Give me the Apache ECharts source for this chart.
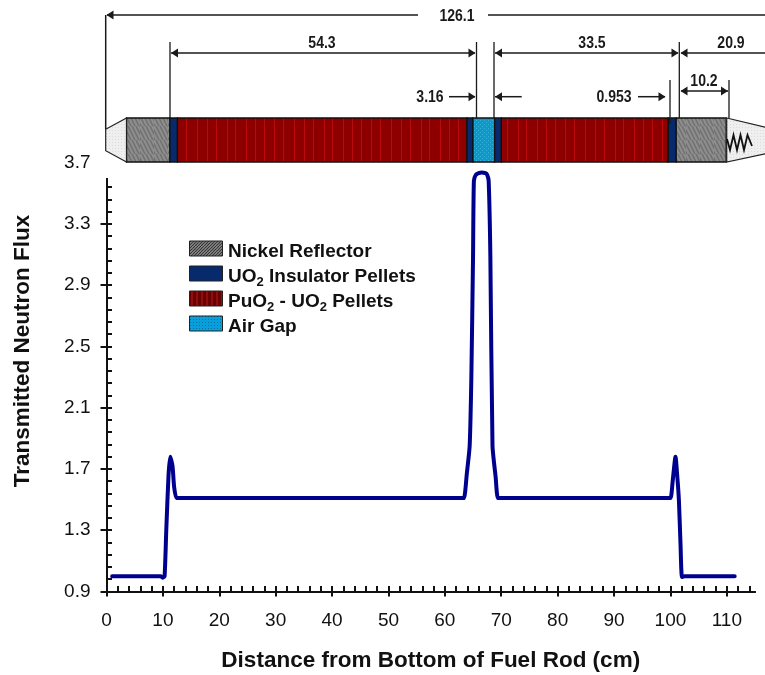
<!DOCTYPE html>
<html>
<head>
<meta charset="utf-8">
<style>html,body{margin:0;padding:0;background:#fff}#c{width:765px;height:675px}</style>
<script src="https://cdn.jsdelivr.net/npm/echarts@6/dist/echarts.min.js"></script>
</head>
<body>
<div id="c"></div>
<script>
// ---- data ----
const distance = [1,2,4,6,8,9,9.6,10,10.3,10.6,11,11.3,11.7,12,12.4,13,20,30,40,50,60,63,63.4,63.9,64.4,64.7,65,65.15,65.5,66,66.5,67.2,67.5,67.77,68.07,68.45,69,69.4,70,80,90,99,100,100.4,100.9,101.2,101.5,101.8,102.05,102.5,104,106,108,110,111.4];
const flux = [1.0,1.0,1.0,1.0,1.0,1.0,1.0,0.99,1.0,1.3,1.66,1.78,1.72,1.58,1.51,1.51,1.51,1.51,1.51,1.51,1.51,1.51,1.51,1.67,1.85,2.3,3.09,3.58,3.62,3.63,3.635,3.63,3.62,3.58,3.09,1.85,1.65,1.51,1.51,1.51,1.51,1.51,1.51,1.62,1.78,1.66,1.5,1.2,0.995,1.0,1.0,1.0,1.0,1.0,1.0];
const xMajor = [0,10,20,30,40,50,60,70,80,90,100,110];
const xTicksAll = [0,2,4,6,8,10,12,14,16,18,20,22,24,26,28,30,32,34,36,38,40,42,44,46,48,50,52,54,56,58,60,62,64,66,68,70,72,74,76,78,80,82,84,86,88,90,92,94,96,98,100,102,104,106,108,110,112,114];
const yMajor = [0.9,1.3,1.7,2.1,2.5,2.9,3.3,3.7];
const yTicksAll = [0.9,0.98,1.06,1.14,1.22,1.3,1.38,1.46,1.54,1.62,1.7,1.78,1.86,1.94,2.02,2.1,2.18,2.26,2.34,2.42,2.5,2.58,2.66,2.74,2.82,2.9,2.98,3.06,3.14,3.22,3.3,3.38,3.46,3.54,3.62,3.7];
const xTitle = 'Distance from Bottom of Fuel Rod (cm)';
const yTitle = 'Transmitted Neutron Flux';
// rod sections along the rod, in cm on the x scale
const rodStart = [3.54,11.25,12.58,63.93,64.99,68.83,70.02,99.61,101.03];
const rodEnd   = [11.25,12.58,63.93,64.99,68.83,70.02,99.61,101.03,109.89];
const rodKind  = ['nickel','insulator','pellet','insulator','gap','insulator','pellet','insulator','nickel'];

// ---- fills ----
function mk(w,h,draw){const c=document.createElement('canvas');c.width=w;c.height=h;draw(c.getContext('2d'));return {image:c,repeat:'repeat'};}
const nickelFill = mk(14,14,g=>{g.fillStyle='#8e8e8e';g.fillRect(0,0,14,14);g.strokeStyle='#717171';g.lineWidth=1.6;
  for(let i=-14;i<28;i+=4){g.beginPath();g.moveTo(i,0);g.lineTo(i+7,14);g.stroke();}});
const swatchNickel = mk(6,6,g=>{g.fillStyle='#9a9a9a';g.fillRect(0,0,6,6);g.strokeStyle='#333';g.lineWidth=1.2;
  for(let i=-6;i<12;i+=3){g.beginPath();g.moveTo(i,6);g.lineTo(i+6,0);g.stroke();}});
const pelletFill = mk(97,10,g=>{g.fillStyle='#8e0000';g.fillRect(0,0,97,10);g.fillStyle='#b80a0a';
  [3,13,22,33,41,52,61,70,80,89].forEach(x=>g.fillRect(x,0,1,10));});
const swatchPellet = mk(5,5,g=>{g.fillStyle='#6a0000';g.fillRect(0,0,5,5);g.fillStyle='#8f0f0f';g.fillRect(1,0,2,5);});
const gapFill = mk(4,4,g=>{g.fillStyle='#0f97c8';g.fillRect(0,0,4,4);g.fillStyle='#38b4dc';g.fillRect(0,0,1,1);g.fillRect(2,2,1,1);});
const swatchGap = mk(3,3,g=>{g.fillStyle='#08a0dc';g.fillRect(0,0,3,3);g.fillStyle='#0a6e9c';g.fillRect(1,1,1,1);});
const capFill = mk(3,3,g=>{g.fillStyle='#efefef';g.fillRect(0,0,3,3);g.fillStyle='#dcdcdc';g.fillRect(1,1,1,1);});
const kindFill = {nickel:nickelFill, insulator:'#062a6c', pellet:pelletFill, gap:gapFill};

const FONT='"Liberation Sans", Arial, sans-serif', INK='#1a1a1a';
const g=[];
// hide the y axis behind the drawing's white backing
g.push({type:'rect',z:5,shape:{x:97,y:112,width:24,height:66},style:{fill:'#fff'}});
// rod end caps
g.push({type:'polygon',z:30,shape:{points:[[105.7,129.3],[126.5,118],[126.5,162],[105.7,150.7]]},style:{fill:capFill,stroke:'#222',lineWidth:1.2}});
g.push({type:'polygon',z:30,shape:{points:[[726.7,118],[767,127.5],[767,153.5],[726.7,162]]},style:{fill:capFill,stroke:'#222',lineWidth:1.2}});
g.push({type:'polyline',z:31,shape:{points:[[727,139],[730,150],[733.5,135],[737,150],[740.5,135],[744,150],[747.5,135],[752,146]]},style:{stroke:'#111',lineWidth:1.8,fill:'none'}});

function line(x1,y1,x2,y2,w){g.push({type:'line',z:40,shape:{x1,y1,x2,y2},style:{stroke:INK,lineWidth:w||1.5}});}
function head(x,y,dir){ // dir -1: tip on the left, +1: tip on the right
  g.push({type:'polygon',z:40,shape:{points:[[x,y],[x-dir*7,y-4.5],[x-dir*7,y+4.5]]},style:{fill:INK}});}
function dimText(t,cx,cy){g.push({type:'text',z:41,x:cx,y:cy,scaleX:0.85,style:{text:t,x:0,y:0,align:'center',verticalAlign:'middle',font:'bold 16.5px '+FONT,fill:INK}});}
// overall length
line(105.7,15,105.7,129); head(106.5,15,-1); line(107,15,418,15); line(488,15,767,15); dimText('126.1',457,16);
// upper dimension row
[[170,42,118],[476.5,42,118],[494,42,118],[679.3,42,118],[670,80,124],[729,80,118]].forEach(v=>line(v[0],v[1],v[0],v[2],1.3));
line(171,53,475,53); head(171,53,-1); head(475.5,53,1); dimText('54.3',322,43);
line(495,53,678,53); head(495,53,-1); head(678.5,53,1); dimText('33.5',592,43);
line(681,53,767,53); head(680.5,53,-1); dimText('20.9',731,43);
line(681,91,728,91); head(680.5,91,-1); head(728,91,1); dimText('10.2',704,81);
// lower dimension row
dimText('3.16',430,97); line(449,96.7,475,96.7); head(475.5,96.7,1);
line(495,96.7,521.7,96.7); head(495,96.7,-1);
dimText('0.953',614,97); line(638,96.7,665,96.7); head(665.5,96.7,1);

// legend of the rod sections; each label is a run of normal text and subscripts
const legendFill=[swatchNickel,'#062a6c',swatchPellet,swatchGap];
const legendRuns=[
  [['Nickel Reflector',0]],
  [['UO',0],['2',1],[' Insulator Pellets',0]],
  [['PuO',0],['2',1],[' - UO',0],['2',1],[' Pellets',0]],
  [['Air Gap',0]]
];
const mctx=document.createElement('canvas').getContext('2d');
legendRuns.forEach((runs,i)=>{
  const y=241+i*25;
  g.push({type:'rect',z:20,shape:{x:189.5,y:y,width:33,height:15},style:{fill:legendFill[i],stroke:'#222',lineWidth:1}});
  let tx=228;
  runs.forEach(r=>{
    const font=(r[1]?'bold 13px ':'bold 19px ')+FONT;
    mctx.font=font;
    g.push({type:'text',z:20,x:tx,y:r[1]?y+16:y+11,style:{text:r[0],align:'left',verticalAlign:'middle',font:font,fill:'#111'}});
    tx+=mctx.measureText(r[0]).width;
  });
});

const labelCommon={fontFamily:FONT,fontSize:19,color:'#111'};
const chart=echarts.init(document.getElementById('c'),null,{renderer:'canvas'});
chart.setOption({
  animation:false,
  backgroundColor:'#fff',
  grid:{left:106.5,right:10,top:162.5,bottom:83.5,containLabel:false,outerBoundsMode:'none'},
  xAxis:[
    {type:'value',min:0,max:115,position:'bottom',
     name:xTitle,nameLocation:'middle',nameGap:58,
     nameTextStyle:{fontFamily:FONT,fontSize:22.5,fontWeight:'bold',color:'#111'},
     axisLine:{onZero:false,lineStyle:{color:'#111',width:2}},
     axisTick:{show:true,length:5,lineStyle:{color:'#111',width:2},customValues:xMajor},
     axisLabel:Object.assign({margin:20,customValues:xMajor,formatter:v=>String(v)},labelCommon),
     splitLine:{show:false}},
    {type:'value',min:0,max:115,position:'bottom',
     axisLine:{onZero:false,lineStyle:{color:'#111',width:2}},
     axisTick:{show:true,inside:true,length:5.5,lineStyle:{color:'#111',width:2},customValues:xTicksAll},
     axisLabel:{show:false},splitLine:{show:false}}
  ],
  yAxis:[
    {type:'value',min:0.9,max:3.7,position:'left',
     name:yTitle,nameLocation:'middle',nameGap:72,nameRotate:90,
     nameTextStyle:{fontFamily:FONT,fontSize:22.5,fontWeight:'bold',color:'#111',padding:[0,0,0,52]},
     axisLine:{onZero:false,lineStyle:{color:'#111',width:2}},
     axisTick:{show:true,length:6,lineStyle:{color:'#111',width:2},customValues:yMajor},
     axisLabel:Object.assign({margin:16,customValues:yMajor,formatter:v=>v.toFixed(1)},labelCommon),
     splitLine:{show:false}},
    {type:'value',min:0.9,max:3.7,position:'left',
     axisLine:{onZero:false,lineStyle:{color:'#111',width:2}},
     axisTick:{show:true,inside:true,length:5.5,lineStyle:{color:'#111',width:2},customValues:yTicksAll},
     axisLabel:{show:false},splitLine:{show:false}}
  ],
  series:[
    {type:'line',name:yTitle,xAxisIndex:0,yAxisIndex:0,z:10,
     data:distance.map((d,i)=>[d,flux[i]]),showSymbol:false,smooth:0.2,clip:false,
     lineStyle:{color:'#00008f',width:4,cap:'round',join:'round'}},
    {type:'custom',name:'rod',xAxisIndex:0,yAxisIndex:0,z:25,clip:false,silent:true,
     data:rodStart.map((s,i)=>[s,rodEnd[i],i]),
     renderItem:(params,api)=>{
       const a=api.coord([api.value(0),3]),b=api.coord([api.value(1),3]);
       return {type:'rect',shape:{x:a[0],y:118,width:b[0]-a[0],height:44},
         style:{fill:kindFill[rodKind[api.value(2)]],stroke:'#111',lineWidth:1.3}};
     }}
  ],
  graphic:{elements:g}
});
</script>
</body>
</html>
